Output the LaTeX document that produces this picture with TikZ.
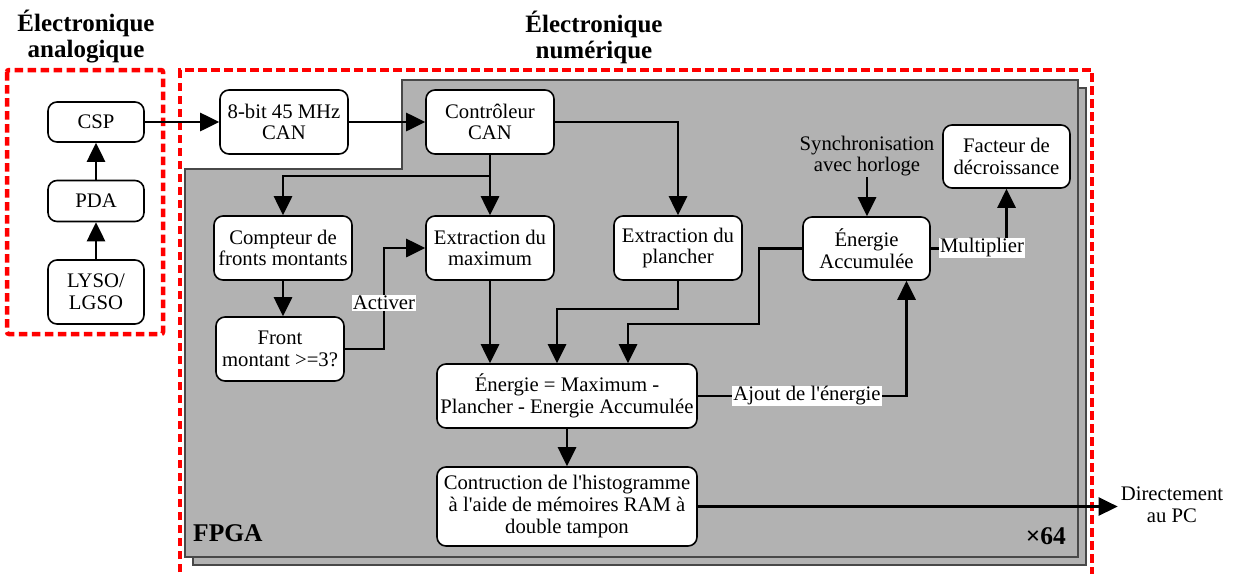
\documentclass[tikz,border=0pt]{standalone}
\usepackage{fontspec}
\setmainfont{Liberation Serif}
\usetikzlibrary{arrows.meta}
\definecolor{fpgagray}{RGB}{178,178,178}
\definecolor{fpgaedge}{RGB}{72,72,72}
\newcommand{\aq}{\textquotesingle}
\begin{document}
\begin{tikzpicture}[x=1pt,y=-1pt,
  txt/.style={font=\rmfamily\fontsize{20.7}{21.7}\selectfont, align=center},
  blk/.style={txt, draw, fill=white, line width=1.6pt, rounded corners=9pt, inner sep=0pt},
  arr/.style={line width=2.8pt, -{Triangle[length=19pt,width=18pt]}},
  lbl/.style={txt, fill=white, inner sep=1pt},
  ttl/.style={font=\rmfamily\fontsize{25}{26}\selectfont\bfseries, align=center},
  bigb/.style={font=\rmfamily\fontsize{25.5}{26}\selectfont\bfseries},
  reddash/.style={red, line width=4.5pt, dash pattern=on 8.5pt off 4.5pt},
  chip/.style={fill=fpgagray, draw=fpgaedge, line width=1.8pt}]
\useasboundingbox (0,0) rectangle (1242,573);

% FPGA chip (back copy, then front)
\draw[chip] (410,88) -- (1086,88) -- (1086,565) -- (193,565) -- (193,177) -- (410,177) -- cycle;
\draw[chip] (402,80) -- (1078,80) -- (1078,557) -- (185,557) -- (185,169) -- (402,169) -- cycle;

% red dashed groups
\draw[reddash, rounded corners=2pt] (7,70) rectangle (163,334);
\draw[reddash] (180,585) -- (180,70) -- (1092,70) -- (1092,585);

% titles
\node[ttl] (t1) at (86,37) {Électronique\\analogique};
\node[ttl] (t2) at (594,37) {Électronique\\numérique};
\node[bigb, anchor=base west, inner sep=0pt] (fpga) at (193,541) {FPGA};
\node[bigb, anchor=base east, inner sep=0pt] (x64) at (1066,544) {×64};

% blocks
\node[blk, minimum width=96pt, minimum height=40pt] (csp) at (96,122) {CSP};
\node[blk, minimum width=96pt, minimum height=41pt] (pda) at (96,201) {PDA};
\node[blk, minimum width=96pt, minimum height=64pt] (lyso) at (96,292) {LYSO/\\LGSO};
\node[blk, minimum width=128pt, minimum height=64pt] (can8) at (284,122) {8-bit 45 MHz\\CAN};
\node[blk, minimum width=128pt, minimum height=64pt] (ctrl) at (490,122) {Contrôleur\\CAN};
\node[blk, minimum width=138pt, minimum height=64pt] (cmpt) at (283,248) {Compteur de\\fronts montants};
\node[blk, minimum width=128pt, minimum height=64pt] (emax) at (490,248) {Extraction du\\maximum};
\node[blk, minimum width=128pt, minimum height=64pt] (epl) at (678,248) {Extraction du\\plancher};
\node[blk, minimum width=128pt, minimum height=64pt] (front) at (280,349) {Front\\montant >=3?};
\node[blk, minimum width=260pt, minimum height=64pt] (ener) at (567,396) {Énergie = Maximum -\\Plancher - Energie Accumulée};
\node[blk, minimum width=127pt, minimum height=63pt] (eacc) at (866.5,248.5) {Énergie\\Accumulée};
\node[blk, minimum width=127pt, minimum height=63pt] (fact) at (1006.5,156.5) {Facteur de\\décroissance};
\node[blk, minimum width=260pt, minimum height=79pt] (hist) at (567,506.5) {Contruction de l\aq histogramme\\à l\aq aide de mémoires RAM à\\double tampon};
\node[txt, inner sep=1pt] (syn) at (867,156) {Synchronisation\\avec horloge};
\node[txt, inner sep=3pt] (pc) at (1172,505) {Directement\\au PC};

% connectors
\draw[arr] (lyso.north) -- (pda.south);
\draw[arr] (pda.north) -- (csp.south);
\draw[arr] (csp.east) -- (can8.west);
\draw[arr] (can8.east) -- (ctrl.west);
\draw[arr] (ctrl.south) -- (emax.north);
\coordinate (j1) at (490,176);
\draw[arr] (j1) -| (cmpt.north);
\draw[arr] (ctrl.east) -| (epl.north);
\draw[arr] (cmpt.south) -- (cmpt.south |- front.north);
\coordinate (a1) at (384,349);
\draw[arr] (front.east) -- (a1) |- (emax.west);
\node[lbl] (act) at (384,303) {Activer};
\draw[arr] (emax.south) -- (emax.south |- ener.north);
\coordinate (p1) at (557,309);
\draw[arr] (epl.south) |- (p1) -- (p1 |- ener.north);
\coordinate (p2) at (759,324);
\coordinate (p3) at (628,324);
\draw[arr] (eacc.west) -| (p2) -- (p3) -- (p3 |- ener.north);
\draw[arr] (ener.east) -| ([xshift=40pt]eacc.south);
\node[lbl] (ajout) at (807,396) {Ajout de l\aq énergie};
\draw[arr] (syn.south) -- (syn.south |- eacc.north);
\draw[arr] (eacc.east) -| (fact.south);
\node[lbl] (mult) at (982,248) {Multiplier};
\draw[arr] (ener.south) -- (ener.south |- hist.north);
\draw[arr] (hist.east) -- (hist.east -| pc.west);
\end{tikzpicture}
\end{document}
